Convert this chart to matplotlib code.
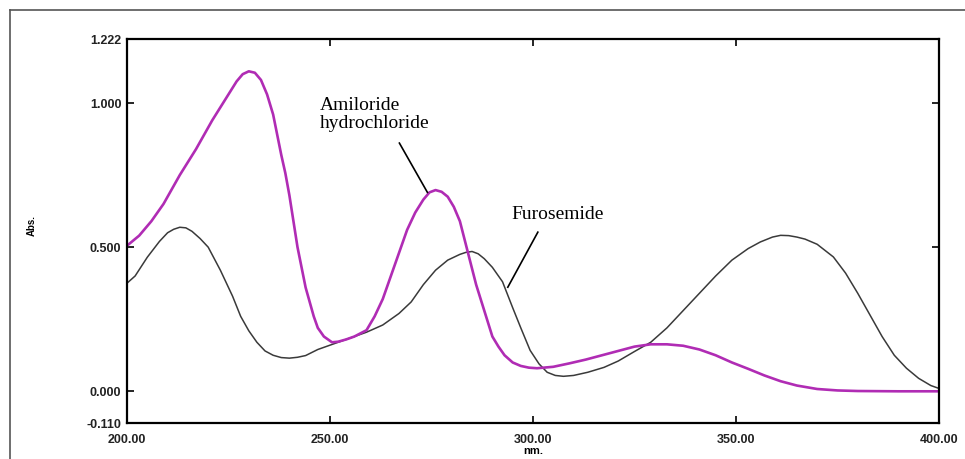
import matplotlib
matplotlib.use("Agg")
import matplotlib.pyplot as plt
from matplotlib.lines import Line2D

# Amiloride hydrochloride spectrum (nm, absorbance)
amil_nm = [200, 203, 206, 209, 213, 217, 221, 225, 227, 228.5, 230, 231.5, 233,
           234.5, 236, 238, 239, 240, 242, 244, 246, 247, 248.5, 250.5, 252, 254,
           256, 259, 261, 263, 265, 267, 269, 271, 273, 274.5, 276, 277.5, 279,
           280.5, 282, 284, 286, 288, 290, 291.5, 293, 295, 297, 299, 301, 305,
           309, 313, 317, 321, 325, 329, 333, 337, 341, 345, 349, 353, 357, 361,
           365, 370, 375, 380, 390, 400]
amil_abs = [0.505, 0.54, 0.59, 0.65, 0.75, 0.84, 0.94, 1.03, 1.075, 1.10, 1.11,
            1.105, 1.08, 1.03, 0.96, 0.82, 0.757, 0.68, 0.50, 0.36, 0.26, 0.22,
            0.19, 0.17, 0.172, 0.18, 0.19, 0.212, 0.26, 0.32, 0.40, 0.48, 0.56,
            0.62, 0.665, 0.69, 0.698, 0.692, 0.675, 0.64, 0.59, 0.48, 0.37, 0.28,
            0.19, 0.155, 0.125, 0.10, 0.088, 0.082, 0.08, 0.085, 0.097, 0.11,
            0.125, 0.14, 0.155, 0.163, 0.163, 0.158, 0.145, 0.125, 0.10, 0.078,
            0.055, 0.035, 0.02, 0.008, 0.003, 0.001, 0.0, 0.0]

# Furosemide spectrum (nm, absorbance)
furo_nm = [200, 202, 205, 208, 210, 211.5, 213, 214.5, 216, 218, 220, 223, 226,
           228, 230, 232, 234, 236, 238, 240, 242, 244, 247, 251, 255, 259, 263,
           267, 270, 273, 276, 279, 282, 283.5, 285, 286.5, 288, 290, 292.5, 295,
           297, 299.3, 301.5, 303.5, 305.5, 307.5, 310, 313.5, 317.5, 321, 325,
           329, 333, 337, 341, 345, 349, 353, 356, 359, 361, 363, 365, 367, 370,
           374, 377, 380, 383, 386, 389, 392, 395, 398, 400]
furo_abs = [0.375, 0.40, 0.465, 0.52, 0.55, 0.562, 0.569, 0.567, 0.555, 0.53, 0.50,
            0.42, 0.33, 0.26, 0.21, 0.17, 0.14, 0.125, 0.117, 0.115, 0.118, 0.124,
            0.145, 0.165, 0.185, 0.205, 0.23, 0.27, 0.31, 0.37, 0.42, 0.455, 0.475,
            0.482, 0.485, 0.477, 0.46, 0.43, 0.38, 0.29, 0.22, 0.142, 0.095, 0.066,
            0.055, 0.052, 0.055, 0.066, 0.083, 0.105, 0.138, 0.17, 0.22, 0.28,
            0.34, 0.40, 0.455, 0.495, 0.518, 0.535, 0.541, 0.54, 0.535, 0.528,
            0.51, 0.466, 0.41, 0.34, 0.265, 0.19, 0.125, 0.08, 0.045, 0.02, 0.01]

x_ticks = [200, 250, 300, 350, 400]
x_labels = ["200.00", "250.00", "300.00", "350.00", "400.00"]
y_ticks = [-0.110, 0.0, 0.5, 1.0, 1.222]
y_labels = ["-0.110", "0.000", "0.500", "1.000", "1.222"]

fig = plt.figure(figsize=(9.65, 4.59), dpi=100)
ax = fig.add_axes([0.1316, 0.0784, 0.8414, 0.8366])

ax.plot(furo_nm, furo_abs, color="#3a3a3a", lw=1.1, solid_joinstyle="round")
ax.plot(amil_nm, amil_abs, color="#b02cb4", lw=1.9, solid_joinstyle="round")

ax.set_xlim(200, 400)
ax.set_ylim(-0.110, 1.222)
ax.set_xticks(x_ticks)
ax.set_xticklabels(x_labels)
ax.set_yticks(y_ticks)
ax.set_yticklabels(y_labels)
ax.tick_params(direction="in", length=5, width=1.2, top=True, right=True,
               labelsize=9, pad=4)
ax.tick_params(axis="x", pad=8)
for lbl in ax.get_xticklabels() + ax.get_yticklabels():
    lbl.set_fontweight("bold")
    lbl.set_family("Liberation Sans")
    lbl.set_color("#222222")
for s in ax.spines.values():
    s.set_linewidth(1.6)

ax.set_xlabel("nm.", fontsize=8, fontweight="bold", family="Liberation Sans",
              labelpad=0)
fig.text(32 / 965, 1 - 225 / 459, "Abs.", rotation=90, fontsize=7,
         fontweight="bold", family="Liberation Sans", ha="center", va="center")

# labels and their pointer lines
ax.text(247.5, 0.96, "Amiloride\nhydrochloride", fontsize=14,
        family="Liberation Serif", ha="left", va="center", linespacing=1.05)
ax.plot([267.1, 274.0], [0.861, 0.69], color="black", lw=1.2)
ax.text(294.8, 0.615, "Furosemide", fontsize=14, family="Liberation Serif",
        ha="left", va="center")
ax.plot([301.2, 293.8], [0.552, 0.361], color="black", lw=1.2)

# outer frame of the figure
fig.add_artist(Line2D([10 / 965, 10 / 965], [0, 1 - 10 / 459],
                      transform=fig.transFigure, color="#555555", lw=1.2))
fig.add_artist(Line2D([10 / 965, 1], [1 - 10 / 459, 1 - 10 / 459],
                      transform=fig.transFigure, color="#555555", lw=1.2))

fig.savefig("out.png", dpi=100)
